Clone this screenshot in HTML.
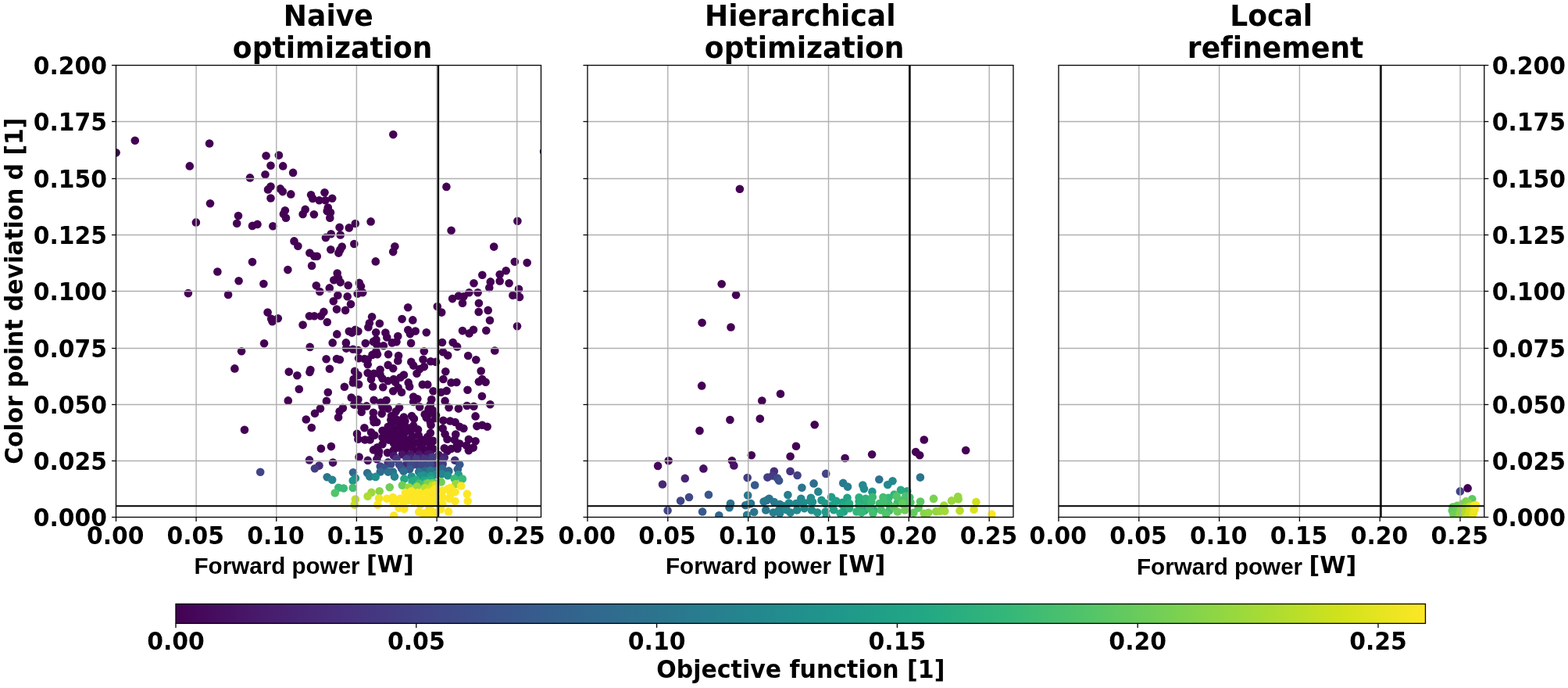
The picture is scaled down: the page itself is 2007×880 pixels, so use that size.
<!DOCTYPE html>
<html><head><meta charset="utf-8"><title>Optimization comparison</title>
<style>html,body{margin:0;padding:0;background:#fff}svg{display:block}text{font-family:"DejaVu Sans", "Liberation Sans", sans-serif;font-weight:bold;fill:#000;font-variant-ligatures:none;font-kerning:none}.ar{font-family:"Liberation Sans", sans-serif}</style></head><body>
<svg width="2007" height="880" viewBox="0 0 2007 880">
<rect width="2007" height="880" fill="#fff"/>
<defs><linearGradient id="vg" x1="0" x2="1" y1="0" y2="0">
<stop offset="0.0000" stop-color="#440154"/>
<stop offset="0.0667" stop-color="#481a6c"/>
<stop offset="0.1333" stop-color="#472f7d"/>
<stop offset="0.2000" stop-color="#414487"/>
<stop offset="0.2667" stop-color="#39568c"/>
<stop offset="0.3333" stop-color="#31688e"/>
<stop offset="0.4000" stop-color="#2a788e"/>
<stop offset="0.4667" stop-color="#23888e"/>
<stop offset="0.5333" stop-color="#1f988b"/>
<stop offset="0.6000" stop-color="#22a884"/>
<stop offset="0.6667" stop-color="#35b779"/>
<stop offset="0.7333" stop-color="#54c568"/>
<stop offset="0.8000" stop-color="#7ad151"/>
<stop offset="0.8667" stop-color="#a5db36"/>
<stop offset="0.9333" stop-color="#d2e21b"/>
<stop offset="1.0000" stop-color="#fde725"/>
</linearGradient></defs>
<g>
<clipPath id="cp0"><rect x="148.5" y="83.5" width="544.0" height="578.0"/></clipPath>
<g clip-path="url(#cp0)">
<g fill="#440154">
<circle cx="148.6" cy="195.3" r="5.3"/>
<circle cx="172.8" cy="179.7" r="5.3"/>
<circle cx="268.1" cy="183.5" r="5.3"/>
<circle cx="242.8" cy="212.4" r="5.3"/>
<circle cx="340.6" cy="199.2" r="5.3"/>
<circle cx="356.9" cy="198.6" r="5.3"/>
<circle cx="346.5" cy="211.7" r="5.3"/>
<circle cx="362.2" cy="212.4" r="5.3"/>
<circle cx="375.1" cy="220.9" r="5.3"/>
<circle cx="339.5" cy="223.2" r="5.3"/>
<circle cx="320.0" cy="227.4" r="5.3"/>
<circle cx="346.5" cy="238.6" r="5.3"/>
<circle cx="343.0" cy="242.4" r="5.3"/>
<circle cx="358.8" cy="241.4" r="5.3"/>
<circle cx="361.8" cy="245.1" r="5.3"/>
<circle cx="372.3" cy="248.4" r="5.3"/>
<circle cx="346.5" cy="253.5" r="5.3"/>
<circle cx="269.0" cy="260.2" r="5.3"/>
<circle cx="398.1" cy="249.3" r="5.3"/>
<circle cx="400.2" cy="253.9" r="5.3"/>
<circle cx="415.5" cy="246.3" r="5.3"/>
<circle cx="408.6" cy="256.3" r="5.3"/>
<circle cx="364.9" cy="269.3" r="5.3"/>
<circle cx="390.7" cy="267.9" r="5.3"/>
<circle cx="250.9" cy="284.4" r="5.3"/>
<circle cx="305.0" cy="276.0" r="5.3"/>
<circle cx="303.2" cy="285.8" r="5.3"/>
<circle cx="323.0" cy="288.9" r="5.3"/>
<circle cx="329.5" cy="286.9" r="5.3"/>
<circle cx="349.3" cy="289.3" r="5.3"/>
<circle cx="362.9" cy="273.7" r="5.3"/>
<circle cx="366.0" cy="278.8" r="5.3"/>
<circle cx="387.6" cy="274.0" r="5.3"/>
<circle cx="401.9" cy="274.2" r="5.3"/>
<circle cx="376.5" cy="308.4" r="5.3"/>
<circle cx="381.4" cy="314.8" r="5.3"/>
<circle cx="396.4" cy="323.5" r="5.3"/>
<circle cx="402.3" cy="327.7" r="5.3"/>
<circle cx="405.8" cy="327.7" r="5.3"/>
<circle cx="416.9" cy="303.9" r="5.3"/>
<circle cx="323.0" cy="335.1" r="5.3"/>
<circle cx="399.1" cy="339.9" r="5.3"/>
<circle cx="368.4" cy="345.1" r="5.3"/>
<circle cx="278.4" cy="347.5" r="5.3"/>
<circle cx="305.6" cy="359.3" r="5.3"/>
<circle cx="337.4" cy="363.0" r="5.3"/>
<circle cx="404.8" cy="365.3" r="5.3"/>
<circle cx="409.3" cy="373.0" r="5.3"/>
<circle cx="240.9" cy="375.1" r="5.3"/>
<circle cx="292.1" cy="376.9" r="5.3"/>
<circle cx="342.6" cy="399.6" r="5.3"/>
<circle cx="347.2" cy="407.7" r="5.3"/>
<circle cx="348.6" cy="411.2" r="5.3"/>
<circle cx="355.8" cy="407.2" r="5.3"/>
<circle cx="396.0" cy="404.2" r="5.3"/>
<circle cx="402.3" cy="404.2" r="5.3"/>
<circle cx="410.7" cy="404.2" r="5.3"/>
<circle cx="414.4" cy="398.9" r="5.3"/>
<circle cx="387.6" cy="415.6" r="5.3"/>
<circle cx="338.1" cy="439.3" r="5.3"/>
<circle cx="396.7" cy="443.9" r="5.3"/>
<circle cx="309.1" cy="449.2" r="5.3"/>
<circle cx="300.4" cy="471.4" r="5.3"/>
<circle cx="369.8" cy="475.6" r="5.3"/>
<circle cx="380.4" cy="480.2" r="5.3"/>
<circle cx="397.4" cy="473.0" r="5.3"/>
<circle cx="396.4" cy="476.0" r="5.3"/>
<circle cx="382.8" cy="497.7" r="5.3"/>
<circle cx="368.8" cy="512.4" r="5.3"/>
<circle cx="410.0" cy="522.6" r="5.3"/>
<circle cx="403.0" cy="528.8" r="5.3"/>
<circle cx="391.8" cy="536.5" r="5.3"/>
<circle cx="398.8" cy="547.0" r="5.3"/>
<circle cx="313.0" cy="549.8" r="5.3"/>
<circle cx="410.9" cy="573.8" r="5.3"/>
<circle cx="423.9" cy="571.1" r="5.3"/>
<circle cx="478.1" cy="575.4" r="5.3"/>
<circle cx="485.1" cy="577.6" r="5.3"/>
<circle cx="483.0" cy="572.2" r="5.3"/>
<circle cx="503.3" cy="172.1" r="5.3"/>
<circle cx="571.4" cy="238.9" r="5.3"/>
<circle cx="696.1" cy="193.8" r="5.3"/>
<circle cx="425.2" cy="253.7" r="5.3"/>
<circle cx="416.5" cy="256.2" r="5.3"/>
<circle cx="419.8" cy="265.6" r="5.3"/>
<circle cx="418.7" cy="270.1" r="5.3"/>
<circle cx="423.0" cy="271.8" r="5.3"/>
<circle cx="422.3" cy="278.8" r="5.3"/>
<circle cx="434.6" cy="290.8" r="5.3"/>
<circle cx="446.8" cy="291.4" r="5.3"/>
<circle cx="454.8" cy="286.0" r="5.3"/>
<circle cx="474.6" cy="283.4" r="5.3"/>
<circle cx="423.7" cy="299.3" r="5.3"/>
<circle cx="435.7" cy="300.5" r="5.3"/>
<circle cx="453.3" cy="312.0" r="5.3"/>
<circle cx="423.3" cy="319.2" r="5.3"/>
<circle cx="437.7" cy="315.6" r="5.3"/>
<circle cx="435.3" cy="319.5" r="5.3"/>
<circle cx="433.4" cy="323.6" r="5.3"/>
<circle cx="505.4" cy="315.3" r="5.3"/>
<circle cx="503.2" cy="322.1" r="5.3"/>
<circle cx="480.8" cy="334.4" r="5.3"/>
<circle cx="577.6" cy="294.7" r="5.3"/>
<circle cx="662.4" cy="282.8" r="5.3"/>
<circle cx="632.2" cy="315.6" r="5.3"/>
<circle cx="658.8" cy="334.7" r="5.3"/>
<circle cx="674.7" cy="336.1" r="5.3"/>
<circle cx="647.7" cy="346.3" r="5.3"/>
<circle cx="639.7" cy="351.0" r="5.3"/>
<circle cx="617.3" cy="351.8" r="5.3"/>
<circle cx="639.7" cy="359.4" r="5.3"/>
<circle cx="627.8" cy="360.4" r="5.3"/>
<circle cx="651.6" cy="362.2" r="5.3"/>
<circle cx="606.5" cy="362.2" r="5.3"/>
<circle cx="626.3" cy="368.1" r="5.3"/>
<circle cx="664.0" cy="369.8" r="5.3"/>
<circle cx="600.4" cy="374.2" r="5.3"/>
<circle cx="611.6" cy="374.2" r="5.3"/>
<circle cx="587.0" cy="378.5" r="5.3"/>
<circle cx="593.5" cy="379.2" r="5.3"/>
<circle cx="579.1" cy="382.1" r="5.3"/>
<circle cx="656.4" cy="377.8" r="5.3"/>
<circle cx="665.0" cy="379.9" r="5.3"/>
<circle cx="431.7" cy="349.6" r="5.3"/>
<circle cx="427.3" cy="358.3" r="5.3"/>
<circle cx="433.1" cy="356.1" r="5.3"/>
<circle cx="435.7" cy="361.1" r="5.3"/>
<circle cx="445.7" cy="365.0" r="5.3"/>
<circle cx="459.9" cy="361.9" r="5.3"/>
<circle cx="462.0" cy="366.2" r="5.3"/>
<circle cx="464.2" cy="374.2" r="5.3"/>
<circle cx="457.7" cy="375.6" r="5.3"/>
<circle cx="421.8" cy="368.4" r="5.3"/>
<circle cx="432.4" cy="377.8" r="5.3"/>
<circle cx="444.7" cy="379.2" r="5.3"/>
<circle cx="426.8" cy="385.2" r="5.3"/>
<circle cx="449.0" cy="389.1" r="5.3"/>
<circle cx="431.0" cy="395.6" r="5.3"/>
<circle cx="442.1" cy="396.9" r="5.3"/>
<circle cx="418.8" cy="412.0" r="5.3"/>
<circle cx="522.2" cy="393.3" r="5.3"/>
<circle cx="476.1" cy="405.2" r="5.3"/>
<circle cx="472.9" cy="413.3" r="5.3"/>
<circle cx="471.4" cy="418.4" r="5.3"/>
<circle cx="485.9" cy="413.7" r="5.3"/>
<circle cx="514.6" cy="408.1" r="5.3"/>
<circle cx="528.3" cy="409.4" r="5.3"/>
<circle cx="431.3" cy="427.4" r="5.3"/>
<circle cx="446.8" cy="423.8" r="5.3"/>
<circle cx="454.8" cy="421.7" r="5.3"/>
<circle cx="458.4" cy="423.8" r="5.3"/>
<circle cx="450.5" cy="425.6" r="5.3"/>
<circle cx="481.2" cy="425.3" r="5.3"/>
<circle cx="493.4" cy="425.6" r="5.3"/>
<circle cx="509.3" cy="430.0" r="5.3"/>
<circle cx="522.3" cy="422.0" r="5.3"/>
<circle cx="531.7" cy="423.5" r="5.3"/>
<circle cx="524.9" cy="427.1" r="5.3"/>
<circle cx="545.8" cy="425.3" r="5.3"/>
<circle cx="592.0" cy="387.7" r="5.3"/>
<circle cx="612.9" cy="387.7" r="5.3"/>
<circle cx="559.8" cy="392.0" r="5.3"/>
<circle cx="565.2" cy="399.6" r="5.3"/>
<circle cx="612.7" cy="398.9" r="5.3"/>
<circle cx="624.7" cy="396.9" r="5.3"/>
<circle cx="627.0" cy="409.7" r="5.3"/>
<circle cx="662.0" cy="417.3" r="5.3"/>
<circle cx="592.0" cy="423.1" r="5.3"/>
<circle cx="606.0" cy="421.7" r="5.3"/>
<circle cx="600.6" cy="426.4" r="5.3"/>
<circle cx="622.3" cy="422.7" r="5.3"/>
<circle cx="495.3" cy="431.5" r="5.3"/>
<circle cx="425.7" cy="438.4" r="5.3"/>
<circle cx="442.9" cy="438.4" r="5.3"/>
<circle cx="443.2" cy="445.6" r="5.3"/>
<circle cx="451.9" cy="446.7" r="5.3"/>
<circle cx="458.4" cy="448.1" r="5.3"/>
<circle cx="467.8" cy="439.1" r="5.3"/>
<circle cx="477.9" cy="436.9" r="5.3"/>
<circle cx="481.5" cy="434.4" r="5.3"/>
<circle cx="482.2" cy="440.5" r="5.3"/>
<circle cx="490.9" cy="442.3" r="5.3"/>
<circle cx="501.8" cy="438.4" r="5.3"/>
<circle cx="507.5" cy="437.3" r="5.3"/>
<circle cx="526.1" cy="438.9" r="5.3"/>
<circle cx="481.5" cy="449.6" r="5.3"/>
<circle cx="476.5" cy="453.9" r="5.3"/>
<circle cx="483.0" cy="453.2" r="5.3"/>
<circle cx="459.1" cy="458.2" r="5.3"/>
<circle cx="466.4" cy="459.0" r="5.3"/>
<circle cx="470.7" cy="459.7" r="5.3"/>
<circle cx="470.7" cy="466.2" r="5.3"/>
<circle cx="497.1" cy="453.2" r="5.3"/>
<circle cx="510.1" cy="455.0" r="5.3"/>
<circle cx="509.3" cy="461.5" r="5.3"/>
<circle cx="542.8" cy="449.2" r="5.3"/>
<circle cx="541.5" cy="459.7" r="5.3"/>
<circle cx="551.2" cy="462.2" r="5.3"/>
<circle cx="526.3" cy="462.9" r="5.3"/>
<circle cx="529.2" cy="467.6" r="5.3"/>
<circle cx="542.9" cy="469.1" r="5.3"/>
<circle cx="537.2" cy="472.0" r="5.3"/>
<circle cx="533.5" cy="477.7" r="5.3"/>
<circle cx="417.6" cy="459.3" r="5.3"/>
<circle cx="431.0" cy="459.0" r="5.3"/>
<circle cx="434.9" cy="460.0" r="5.3"/>
<circle cx="421.9" cy="471.8" r="5.3"/>
<circle cx="496.7" cy="466.9" r="5.3"/>
<circle cx="503.2" cy="471.2" r="5.3"/>
<circle cx="486.6" cy="472.7" r="5.3"/>
<circle cx="454.1" cy="474.9" r="5.3"/>
<circle cx="458.4" cy="479.9" r="5.3"/>
<circle cx="470.7" cy="477.0" r="5.3"/>
<circle cx="478.6" cy="477.7" r="5.3"/>
<circle cx="486.6" cy="479.2" r="5.3"/>
<circle cx="516.9" cy="479.5" r="5.3"/>
<circle cx="512.6" cy="482.8" r="5.3"/>
<circle cx="452.6" cy="485.0" r="5.3"/>
<circle cx="475.0" cy="485.0" r="5.3"/>
<circle cx="489.5" cy="484.2" r="5.3"/>
<circle cx="503.9" cy="485.0" r="5.3"/>
<circle cx="566.0" cy="438.0" r="5.3"/>
<circle cx="579.7" cy="438.0" r="5.3"/>
<circle cx="585.1" cy="443.4" r="5.3"/>
<circle cx="633.3" cy="448.5" r="5.3"/>
<circle cx="567.0" cy="450.3" r="5.3"/>
<circle cx="573.2" cy="454.6" r="5.3"/>
<circle cx="599.2" cy="455.0" r="5.3"/>
<circle cx="609.3" cy="460.2" r="5.3"/>
<circle cx="558.0" cy="462.9" r="5.3"/>
<circle cx="570.3" cy="475.2" r="5.3"/>
<circle cx="615.7" cy="474.5" r="5.3"/>
<circle cx="567.4" cy="485.0" r="5.3"/>
<circle cx="617.2" cy="485.0" r="5.3"/>
<circle cx="419.8" cy="501.7" r="5.3"/>
<circle cx="417.9" cy="512.9" r="5.3"/>
<circle cx="440.9" cy="494.8" r="5.3"/>
<circle cx="451.9" cy="489.4" r="5.3"/>
<circle cx="459.1" cy="491.6" r="5.3"/>
<circle cx="449.7" cy="508.5" r="5.3"/>
<circle cx="458.4" cy="511.1" r="5.3"/>
<circle cx="453.3" cy="517.6" r="5.3"/>
<circle cx="438.9" cy="521.9" r="5.3"/>
<circle cx="434.6" cy="526.2" r="5.3"/>
<circle cx="433.1" cy="533.8" r="5.3"/>
<circle cx="477.2" cy="494.4" r="5.3"/>
<circle cx="496.7" cy="487.2" r="5.3"/>
<circle cx="506.1" cy="488.7" r="5.3"/>
<circle cx="490.2" cy="495.2" r="5.3"/>
<circle cx="503.2" cy="500.2" r="5.3"/>
<circle cx="514.0" cy="501.7" r="5.3"/>
<circle cx="509.7" cy="495.9" r="5.3"/>
<circle cx="522.7" cy="489.4" r="5.3"/>
<circle cx="524.2" cy="494.4" r="5.3"/>
<circle cx="540.8" cy="491.9" r="5.3"/>
<circle cx="547.3" cy="491.9" r="5.3"/>
<circle cx="554.5" cy="500.2" r="5.3"/>
<circle cx="478.6" cy="511.8" r="5.3"/>
<circle cx="487.3" cy="514.7" r="5.3"/>
<circle cx="494.5" cy="512.1" r="5.3"/>
<circle cx="529.2" cy="507.5" r="5.3"/>
<circle cx="534.3" cy="510.3" r="5.3"/>
<circle cx="529.2" cy="514.0" r="5.3"/>
<circle cx="537.2" cy="520.5" r="5.3"/>
<circle cx="552.3" cy="511.1" r="5.3"/>
<circle cx="550.9" cy="517.6" r="5.3"/>
<circle cx="462.0" cy="520.5" r="5.3"/>
<circle cx="469.2" cy="519.4" r="5.3"/>
<circle cx="462.7" cy="527.0" r="5.3"/>
<circle cx="489.5" cy="520.5" r="5.3"/>
<circle cx="496.7" cy="522.6" r="5.3"/>
<circle cx="511.1" cy="521.2" r="5.3"/>
<circle cx="506.8" cy="526.2" r="5.3"/>
<circle cx="477.9" cy="527.7" r="5.3"/>
<circle cx="488.7" cy="529.1" r="5.3"/>
<circle cx="477.9" cy="534.9" r="5.3"/>
<circle cx="501.0" cy="532.0" r="5.3"/>
<circle cx="500.3" cy="537.1" r="5.3"/>
<circle cx="516.9" cy="533.5" r="5.3"/>
<circle cx="527.0" cy="532.0" r="5.3"/>
<circle cx="529.9" cy="535.6" r="5.3"/>
<circle cx="511.1" cy="537.8" r="5.3"/>
<circle cx="543.7" cy="529.9" r="5.3"/>
<circle cx="545.8" cy="534.2" r="5.3"/>
<circle cx="553.8" cy="524.8" r="5.3"/>
<circle cx="482.2" cy="540.0" r="5.3"/>
<circle cx="550.9" cy="540.0" r="5.3"/>
<circle cx="577.5" cy="489.4" r="5.3"/>
<circle cx="584.4" cy="489.0" r="5.3"/>
<circle cx="612.9" cy="488.3" r="5.3"/>
<circle cx="621.6" cy="488.7" r="5.3"/>
<circle cx="564.5" cy="501.7" r="5.3"/>
<circle cx="571.7" cy="499.9" r="5.3"/>
<circle cx="598.5" cy="498.8" r="5.3"/>
<circle cx="616.9" cy="506.7" r="5.3"/>
<circle cx="569.6" cy="512.9" r="5.3"/>
<circle cx="574.6" cy="521.2" r="5.3"/>
<circle cx="586.9" cy="522.6" r="5.3"/>
<circle cx="597.7" cy="519.0" r="5.3"/>
<circle cx="606.4" cy="519.7" r="5.3"/>
<circle cx="627.4" cy="517.2" r="5.3"/>
<circle cx="608.6" cy="532.4" r="5.3"/>
<circle cx="548.6" cy="523.3" r="5.3"/>
<circle cx="547.9" cy="530.6" r="5.3"/>
<circle cx="558.0" cy="531.3" r="5.3"/>
<circle cx="567.4" cy="537.8" r="5.3"/>
<circle cx="576.1" cy="538.5" r="5.3"/>
<circle cx="582.6" cy="540.0" r="5.3"/>
<circle cx="457.0" cy="554.9" r="5.3"/>
<circle cx="458.4" cy="561.7" r="5.3"/>
<circle cx="466.4" cy="547.3" r="5.3"/>
<circle cx="467.1" cy="562.5" r="5.3"/>
<circle cx="475.0" cy="553.1" r="5.3"/>
<circle cx="473.6" cy="562.5" r="5.3"/>
<circle cx="478.6" cy="540.1" r="5.3"/>
<circle cx="479.4" cy="556.7" r="5.3"/>
<circle cx="489.5" cy="550.9" r="5.3"/>
<circle cx="489.5" cy="559.6" r="5.3"/>
<circle cx="489.5" cy="568.2" r="5.3"/>
<circle cx="496.7" cy="545.8" r="5.3"/>
<circle cx="496.7" cy="553.8" r="5.3"/>
<circle cx="503.9" cy="539.3" r="5.3"/>
<circle cx="503.9" cy="549.4" r="5.3"/>
<circle cx="503.9" cy="558.8" r="5.3"/>
<circle cx="503.9" cy="566.8" r="5.3"/>
<circle cx="511.1" cy="545.8" r="5.3"/>
<circle cx="511.1" cy="555.2" r="5.3"/>
<circle cx="511.1" cy="563.9" r="5.3"/>
<circle cx="511.1" cy="572.6" r="5.3"/>
<circle cx="518.4" cy="538.6" r="5.3"/>
<circle cx="522.0" cy="547.3" r="5.3"/>
<circle cx="518.4" cy="553.1" r="5.3"/>
<circle cx="522.7" cy="562.5" r="5.3"/>
<circle cx="518.4" cy="569.0" r="5.3"/>
<circle cx="529.2" cy="544.4" r="5.3"/>
<circle cx="535.0" cy="549.4" r="5.3"/>
<circle cx="535.7" cy="556.7" r="5.3"/>
<circle cx="540.0" cy="562.5" r="5.3"/>
<circle cx="540.0" cy="569.7" r="5.3"/>
<circle cx="547.3" cy="558.8" r="5.3"/>
<circle cx="550.9" cy="553.8" r="5.3"/>
<circle cx="551.6" cy="543.7" r="5.3"/>
<circle cx="554.5" cy="563.9" r="5.3"/>
<circle cx="550.9" cy="569.7" r="5.3"/>
<circle cx="484.4" cy="582.0" r="5.3"/>
<circle cx="496.0" cy="579.1" r="5.3"/>
<circle cx="503.9" cy="575.5" r="5.3"/>
<circle cx="518.4" cy="576.9" r="5.3"/>
<circle cx="529.2" cy="575.5" r="5.3"/>
<circle cx="540.0" cy="576.2" r="5.3"/>
<circle cx="550.9" cy="576.9" r="5.3"/>
<circle cx="610.4" cy="545.1" r="5.3"/>
<circle cx="617.2" cy="543.7" r="5.3"/>
<circle cx="623.7" cy="545.8" r="5.3"/>
<circle cx="557.3" cy="535.0" r="5.3"/>
<circle cx="588.3" cy="545.8" r="5.3"/>
<circle cx="593.4" cy="548.0" r="5.3"/>
<circle cx="566.7" cy="548.0" r="5.3"/>
<circle cx="569.6" cy="555.2" r="5.3"/>
<circle cx="572.5" cy="561.7" r="5.3"/>
<circle cx="583.3" cy="555.6" r="5.3"/>
<circle cx="581.8" cy="562.5" r="5.3"/>
<circle cx="599.9" cy="562.1" r="5.3"/>
<circle cx="608.6" cy="564.3" r="5.3"/>
<circle cx="588.3" cy="567.5" r="5.3"/>
<circle cx="597.0" cy="569.7" r="5.3"/>
<circle cx="605.7" cy="572.6" r="5.3"/>
<circle cx="599.9" cy="576.2" r="5.3"/>
<circle cx="568.8" cy="573.3" r="5.3"/>
<circle cx="577.5" cy="574.0" r="5.3"/>
<circle cx="585.5" cy="574.0" r="5.3"/>
<circle cx="572.5" cy="576.9" r="5.3"/>
<circle cx="554.4" cy="574.0" r="5.3"/>
<circle cx="547.2" cy="575.5" r="5.3"/>
<circle cx="497.5" cy="562.6" r="5.3"/>
<circle cx="516.9" cy="560.5" r="5.3"/>
<circle cx="525.6" cy="551.8" r="5.3"/>
<circle cx="527.7" cy="558.3" r="5.3"/>
<circle cx="524.5" cy="566.9" r="5.3"/>
<circle cx="516.9" cy="545.3" r="5.3"/>
<circle cx="500.7" cy="543.2" r="5.3"/>
<circle cx="545.0" cy="564.8" r="5.3"/>
<circle cx="510.5" cy="569.1" r="5.3"/>
<circle cx="536.4" cy="575.6" r="5.3"/>
<circle cx="493.2" cy="554.0" r="5.3"/>
<circle cx="510.5" cy="551.8" r="5.3"/>
<circle cx="506.1" cy="535.6" r="5.3"/>
<circle cx="585.0" cy="569.1" r="5.3"/>
<circle cx="532.6" cy="566.2" r="5.3"/>
<circle cx="526.8" cy="572.0" r="5.3"/>
</g>
<g fill="#450558">
<circle cx="459.6" cy="584.6" r="5.3"/>
</g>
<g fill="#460c5f">
<circle cx="470.8" cy="588.9" r="5.3"/>
<circle cx="482.4" cy="587.3" r="5.3"/>
</g>
<g fill="#461062">
<circle cx="426.1" cy="591.6" r="5.3"/>
</g>
<g fill="#471466">
<circle cx="396.0" cy="588.4" r="5.3"/>
<circle cx="514.8" cy="581.2" r="5.3"/>
<circle cx="536.4" cy="581.2" r="5.3"/>
<circle cx="547.3" cy="581.2" r="5.3"/>
<circle cx="550.8" cy="581.2" r="5.3"/>
</g>
<g fill="#471668">
<circle cx="525.6" cy="581.2" r="5.3"/>
<circle cx="561.6" cy="582.0" r="5.3"/>
</g>
<g fill="#48176a">
<circle cx="503.9" cy="582.7" r="5.3"/>
</g>
<g fill="#482172">
<circle cx="568.8" cy="584.9" r="5.3"/>
</g>
<g fill="#482474">
<circle cx="520.0" cy="594.3" r="5.3"/>
<circle cx="556.1" cy="593.4" r="5.3"/>
<circle cx="525.6" cy="586.4" r="5.3"/>
<circle cx="538.5" cy="586.4" r="5.3"/>
<circle cx="550.4" cy="585.3" r="5.3"/>
</g>
<g fill="#472877">
<circle cx="582.2" cy="588.8" r="5.3"/>
</g>
<g fill="#472b7a">
<circle cx="408.5" cy="595.6" r="5.3"/>
<circle cx="566.7" cy="588.5" r="5.3"/>
</g>
<g fill="#472e7c">
<circle cx="496.7" cy="591.4" r="5.3"/>
</g>
<g fill="#463480">
<circle cx="507.5" cy="587.0" r="5.3"/>
<circle cx="543.7" cy="587.0" r="5.3"/>
</g>
<g fill="#443b82">
<circle cx="520.5" cy="587.0" r="5.3"/>
<circle cx="532.8" cy="587.0" r="5.3"/>
<circle cx="553.8" cy="584.9" r="5.3"/>
<circle cx="566.7" cy="593.5" r="5.3"/>
</g>
<g fill="#433e84">
<circle cx="402.9" cy="599.2" r="5.3"/>
</g>
<g fill="#414487">
<circle cx="333.2" cy="603.8" r="5.3"/>
<circle cx="536.2" cy="596.0" r="5.3"/>
<circle cx="528.6" cy="594.5" r="5.3"/>
</g>
<g fill="#404788">
<circle cx="500.3" cy="593.5" r="5.3"/>
</g>
<g fill="#3f4988">
<circle cx="486.8" cy="596.5" r="5.3"/>
<circle cx="511.1" cy="594.2" r="5.3"/>
<circle cx="525.6" cy="594.2" r="5.3"/>
<circle cx="540.0" cy="594.2" r="5.3"/>
<circle cx="546.4" cy="596.0" r="5.3"/>
</g>
<g fill="#3d4c89">
<circle cx="550.9" cy="594.2" r="5.3"/>
</g>
<g fill="#3b528b">
<circle cx="491.8" cy="598.5" r="5.3"/>
<circle cx="514.1" cy="599.3" r="5.3"/>
</g>
<g fill="#39578c">
<circle cx="588.3" cy="594.2" r="5.3"/>
</g>
<g fill="#375a8c">
<circle cx="524.2" cy="600.2" r="5.3"/>
</g>
<g fill="#355f8d">
<circle cx="585.9" cy="600.2" r="5.3"/>
</g>
<g fill="#33648e">
<circle cx="452.0" cy="604.3" r="5.3"/>
</g>
<g fill="#31678e">
<circle cx="566.3" cy="599.4" r="5.3"/>
<circle cx="574.4" cy="602.4" r="5.3"/>
<circle cx="544.1" cy="602.2" r="5.3"/>
</g>
<g fill="#306a8e">
<circle cx="486.8" cy="603.5" r="5.3"/>
</g>
<g fill="#2f6c8e">
<circle cx="516.6" cy="602.8" r="5.3"/>
<circle cx="556.6" cy="602.2" r="5.3"/>
</g>
<g fill="#2e6e8e">
<circle cx="470.2" cy="605.1" r="5.3"/>
</g>
<g fill="#2c738e">
<circle cx="418.7" cy="610.2" r="5.3"/>
<circle cx="496.9" cy="603.6" r="5.3"/>
<circle cx="502.9" cy="603.6" r="5.3"/>
</g>
<g fill="#2a788e">
<circle cx="536.2" cy="603.6" r="5.3"/>
<circle cx="550.7" cy="601.9" r="5.3"/>
</g>
<g fill="#287d8e">
<circle cx="473.3" cy="609.4" r="5.3"/>
</g>
<g fill="#25848e">
<circle cx="425.2" cy="613.7" r="5.3"/>
<circle cx="505.0" cy="609.6" r="5.3"/>
<circle cx="565.5" cy="606.2" r="5.3"/>
</g>
<g fill="#228b8d">
<circle cx="454.9" cy="611.6" r="5.3"/>
<circle cx="557.8" cy="607.0" r="5.3"/>
</g>
<g fill="#21908c">
<circle cx="480.8" cy="609.9" r="5.3"/>
<circle cx="542.1" cy="607.9" r="5.3"/>
<circle cx="573.1" cy="608.3" r="5.3"/>
</g>
<g fill="#20958c">
<circle cx="451.7" cy="614.8" r="5.3"/>
<circle cx="526.8" cy="609.6" r="5.3"/>
<circle cx="538.3" cy="609.0" r="5.3"/>
</g>
<g fill="#209c89">
<circle cx="551.5" cy="608.8" r="5.3"/>
<circle cx="586.8" cy="607.0" r="5.3"/>
</g>
<g fill="#22a884">
<circle cx="517.4" cy="612.6" r="5.3"/>
<circle cx="543.0" cy="614.7" r="5.3"/>
</g>
<g fill="#28ac81">
<circle cx="527.6" cy="615.6" r="5.3"/>
<circle cx="532.5" cy="613.8" r="5.3"/>
<circle cx="551.8" cy="613.8" r="5.3"/>
</g>
<g fill="#33b67a">
<circle cx="433.3" cy="623.7" r="5.3"/>
</g>
<g fill="#3bba76">
<circle cx="439.8" cy="624.5" r="5.3"/>
<circle cx="581.7" cy="612.2" r="5.3"/>
<circle cx="591.9" cy="612.6" r="5.3"/>
</g>
<g fill="#44be70">
<circle cx="451.7" cy="624.0" r="5.3"/>
<circle cx="536.4" cy="618.6" r="5.3"/>
</g>
<g fill="#4ec26b">
<circle cx="545.0" cy="618.6" r="5.3"/>
<circle cx="555.7" cy="617.7" r="5.3"/>
</g>
<g fill="#52c469">
<circle cx="428.8" cy="630.5" r="5.3"/>
</g>
<g fill="#6fcd58">
<circle cx="498.7" cy="623.2" r="5.3"/>
<circle cx="514.9" cy="620.7" r="5.3"/>
<circle cx="564.6" cy="616.4" r="5.3"/>
</g>
<g fill="#7ad151">
<circle cx="553.2" cy="618.1" r="5.3"/>
<circle cx="547.6" cy="618.1" r="5.3"/>
</g>
<g fill="#87d449">
<circle cx="485.7" cy="628.3" r="5.3"/>
</g>
<g fill="#9ad83d">
<circle cx="475.4" cy="629.9" r="5.3"/>
<circle cx="523.4" cy="623.2" r="5.3"/>
<circle cx="533.6" cy="622.4" r="5.3"/>
<circle cx="583.4" cy="619.0" r="5.3"/>
</g>
<g fill="#aedc31">
<circle cx="470.6" cy="634.8" r="5.3"/>
</g>
<g fill="#bcde28">
<circle cx="454.9" cy="638.6" r="5.3"/>
<circle cx="543.8" cy="624.1" r="5.3"/>
<circle cx="553.5" cy="620.7" r="5.3"/>
</g>
<g fill="#c9e120">
<circle cx="453.8" cy="645.6" r="5.3"/>
<circle cx="550.1" cy="625.8" r="5.3"/>
</g>
<g fill="#dde31e">
<circle cx="557.6" cy="620.6" r="5.3"/>
</g>
<g fill="#f0e622">
<circle cx="485.1" cy="637.5" r="5.3"/>
</g>
<g fill="#fde725">
<circle cx="483.5" cy="645.6" r="5.3"/>
<circle cx="495.2" cy="637.7" r="5.3"/>
<circle cx="502.9" cy="636.0" r="5.3"/>
<circle cx="512.3" cy="637.7" r="5.3"/>
<circle cx="520.8" cy="634.3" r="5.3"/>
<circle cx="529.3" cy="632.6" r="5.3"/>
<circle cx="537.9" cy="630.9" r="5.3"/>
<circle cx="546.4" cy="630.1" r="5.3"/>
<circle cx="554.1" cy="627.5" r="5.3"/>
<circle cx="503.8" cy="642.9" r="5.3"/>
<circle cx="516.6" cy="642.9" r="5.3"/>
<circle cx="529.3" cy="641.1" r="5.3"/>
<circle cx="542.1" cy="639.4" r="5.3"/>
<circle cx="553.2" cy="637.7" r="5.3"/>
<circle cx="510.6" cy="649.7" r="5.3"/>
<circle cx="517.4" cy="650.9" r="5.3"/>
<circle cx="537.9" cy="645.4" r="5.3"/>
<circle cx="550.7" cy="645.4" r="5.3"/>
<circle cx="536.2" cy="654.8" r="5.3"/>
<circle cx="541.3" cy="656.5" r="5.3"/>
<circle cx="554.1" cy="654.8" r="5.3"/>
<circle cx="504.2" cy="659.5" r="5.3"/>
<circle cx="554.1" cy="660.8" r="5.3"/>
<circle cx="576.5" cy="624.1" r="5.3"/>
<circle cx="590.2" cy="621.5" r="5.3"/>
<circle cx="566.3" cy="627.5" r="5.3"/>
<circle cx="582.5" cy="629.2" r="5.3"/>
<circle cx="553.5" cy="632.6" r="5.3"/>
<circle cx="566.3" cy="636.0" r="5.3"/>
<circle cx="574.8" cy="637.7" r="5.3"/>
<circle cx="582.5" cy="641.1" r="5.3"/>
<circle cx="566.3" cy="644.6" r="5.3"/>
<circle cx="597.9" cy="631.8" r="5.3"/>
<circle cx="598.7" cy="641.1" r="5.3"/>
<circle cx="549.3" cy="651.4" r="5.3"/>
<circle cx="557.8" cy="656.5" r="5.3"/>
<circle cx="563.8" cy="651.4" r="5.3"/>
<circle cx="574.0" cy="654.4" r="5.3"/>
<circle cx="545.0" cy="656.5" r="5.3"/>
<circle cx="519.0" cy="630.2" r="5.3"/>
<circle cx="526.7" cy="628.3" r="5.3"/>
<circle cx="534.4" cy="630.2" r="5.3"/>
<circle cx="557.6" cy="625.4" r="5.3"/>
<circle cx="507.4" cy="639.9" r="5.3"/>
<circle cx="521.9" cy="639.9" r="5.3"/>
<circle cx="536.4" cy="637.9" r="5.3"/>
<circle cx="547.9" cy="637.9" r="5.3"/>
<circle cx="557.6" cy="636.0" r="5.3"/>
<circle cx="544.1" cy="642.8" r="5.3"/>
<circle cx="555.7" cy="642.8" r="5.3"/>
<circle cx="573.1" cy="625.4" r="5.3"/>
<circle cx="576.9" cy="632.2" r="5.3"/>
</g>
</g>
<line x1="251.1" x2="251.1" y1="83.5" y2="661.5" stroke="#b0b0b0" stroke-width="1.4"/>
<line x1="353.8" x2="353.8" y1="83.5" y2="661.5" stroke="#b0b0b0" stroke-width="1.4"/>
<line x1="456.4" x2="456.4" y1="83.5" y2="661.5" stroke="#b0b0b0" stroke-width="1.4"/>
<line x1="559.1" x2="559.1" y1="83.5" y2="661.5" stroke="#b0b0b0" stroke-width="1.4"/>
<line x1="661.7" x2="661.7" y1="83.5" y2="661.5" stroke="#b0b0b0" stroke-width="1.4"/>
<line x1="148.5" x2="692.5" y1="589.5" y2="589.5" stroke="#b0b0b0" stroke-width="1.4"/>
<line x1="148.5" x2="692.5" y1="517.5" y2="517.5" stroke="#b0b0b0" stroke-width="1.4"/>
<line x1="148.5" x2="692.5" y1="445.5" y2="445.5" stroke="#b0b0b0" stroke-width="1.4"/>
<line x1="148.5" x2="692.5" y1="372.5" y2="372.5" stroke="#b0b0b0" stroke-width="1.4"/>
<line x1="148.5" x2="692.5" y1="300.5" y2="300.5" stroke="#b0b0b0" stroke-width="1.4"/>
<line x1="148.5" x2="692.5" y1="228.5" y2="228.5" stroke="#b0b0b0" stroke-width="1.4"/>
<line x1="148.5" x2="692.5" y1="155.5" y2="155.5" stroke="#b0b0b0" stroke-width="1.4"/>
<line x1="561.0" x2="561.0" y1="83.5" y2="661.5" stroke="#000" stroke-width="2.3"/>
<line x1="148.5" x2="692.5" y1="647.2" y2="647.2" stroke="#000" stroke-width="2.1"/>
<rect x="148.5" y="83.5" width="544.0" height="578.0" fill="none" stroke="#000" stroke-width="1.3"/>
<line x1="148.5" x2="148.5" y1="661.5" y2="667.0" stroke="#000" stroke-width="1.3"/>
<text transform="translate(147.7,696.3) scale(1,1.060)" font-size="29.8" text-anchor="middle">0.00</text>
<line x1="251.1" x2="251.1" y1="661.5" y2="667.0" stroke="#000" stroke-width="1.3"/>
<text transform="translate(250.3,696.3) scale(1,1.060)" font-size="29.8" text-anchor="middle">0.05</text>
<line x1="353.8" x2="353.8" y1="661.5" y2="667.0" stroke="#000" stroke-width="1.3"/>
<text transform="translate(353.0,696.3) scale(1,1.060)" font-size="29.8" text-anchor="middle">0.10</text>
<line x1="456.4" x2="456.4" y1="661.5" y2="667.0" stroke="#000" stroke-width="1.3"/>
<text transform="translate(455.6,696.3) scale(1,1.060)" font-size="29.8" text-anchor="middle">0.15</text>
<line x1="559.1" x2="559.1" y1="661.5" y2="667.0" stroke="#000" stroke-width="1.3"/>
<text transform="translate(558.3,696.3) scale(1,1.060)" font-size="29.8" text-anchor="middle">0.20</text>
<line x1="661.7" x2="661.7" y1="661.5" y2="667.0" stroke="#000" stroke-width="1.3"/>
<text transform="translate(660.9,696.3) scale(1,1.060)" font-size="29.8" text-anchor="middle">0.25</text>
<line x1="143.0" x2="148.5" y1="661.5" y2="661.5" stroke="#000" stroke-width="1.3"/>
<text transform="translate(137.0,673.2) scale(1,1.060)" font-size="29.8" text-anchor="end">0.000</text>
<line x1="143.0" x2="148.5" y1="589.5" y2="589.5" stroke="#000" stroke-width="1.3"/>
<text transform="translate(137.0,601.2) scale(1,1.060)" font-size="29.8" text-anchor="end">0.025</text>
<line x1="143.0" x2="148.5" y1="517.5" y2="517.5" stroke="#000" stroke-width="1.3"/>
<text transform="translate(137.0,529.2) scale(1,1.060)" font-size="29.8" text-anchor="end">0.050</text>
<line x1="143.0" x2="148.5" y1="445.5" y2="445.5" stroke="#000" stroke-width="1.3"/>
<text transform="translate(137.0,457.2) scale(1,1.060)" font-size="29.8" text-anchor="end">0.075</text>
<line x1="143.0" x2="148.5" y1="372.5" y2="372.5" stroke="#000" stroke-width="1.3"/>
<text transform="translate(137.0,384.2) scale(1,1.060)" font-size="29.8" text-anchor="end">0.100</text>
<line x1="143.0" x2="148.5" y1="300.5" y2="300.5" stroke="#000" stroke-width="1.3"/>
<text transform="translate(137.0,312.2) scale(1,1.060)" font-size="29.8" text-anchor="end">0.125</text>
<line x1="143.0" x2="148.5" y1="228.5" y2="228.5" stroke="#000" stroke-width="1.3"/>
<text transform="translate(137.0,240.2) scale(1,1.060)" font-size="29.8" text-anchor="end">0.150</text>
<line x1="143.0" x2="148.5" y1="155.5" y2="155.5" stroke="#000" stroke-width="1.3"/>
<text transform="translate(137.0,167.2) scale(1,1.060)" font-size="29.8" text-anchor="end">0.175</text>
<line x1="143.0" x2="148.5" y1="83.5" y2="83.5" stroke="#000" stroke-width="1.3"/>
<text transform="translate(137.0,95.2) scale(1,1.060)" font-size="29.8" text-anchor="end">0.200</text>
<text transform="translate(420.3,33.3) scale(1,1.015)" font-size="36.1" text-anchor="middle">Naive</text>
<text transform="translate(425.7,74.1) scale(1,1.015)" font-size="36.1" text-anchor="middle">optimization</text>
<text transform="translate(248.5,734.2) scale(1,1.000)" font-size="29.6" text-anchor="start" class="ar">Forward power</text>
<text transform="translate(469.0,731.8) scale(1,1.000)" font-size="30.2" text-anchor="start">[W]</text>
</g>
<g>
<clipPath id="cp1"><rect x="752.0" y="83.5" width="545.0" height="578.0"/></clipPath>
<g clip-path="url(#cp1)">
<g fill="#440154">
<circle cx="946.9" cy="241.7" r="5.3"/>
<circle cx="923.7" cy="363.2" r="5.3"/>
<circle cx="942.1" cy="377.2" r="5.3"/>
<circle cx="898.6" cy="412.8" r="5.3"/>
<circle cx="935.5" cy="418.5" r="5.3"/>
<circle cx="898.2" cy="493.4" r="5.3"/>
<circle cx="999.0" cy="503.8" r="5.3"/>
<circle cx="975.3" cy="512.6" r="5.3"/>
<circle cx="934.4" cy="537.0" r="5.3"/>
<circle cx="972.8" cy="535.6" r="5.3"/>
<circle cx="895.5" cy="550.9" r="5.3"/>
<circle cx="1019.0" cy="570.7" r="5.3"/>
<circle cx="961.8" cy="582.3" r="5.3"/>
<circle cx="1011.6" cy="583.7" r="5.3"/>
<circle cx="855.7" cy="589.3" r="5.3"/>
<circle cx="936.9" cy="589.3" r="5.3"/>
<circle cx="1042.7" cy="543.2" r="5.3"/>
<circle cx="1182.8" cy="562.5" r="5.3"/>
<circle cx="1172.1" cy="578.1" r="5.3"/>
<circle cx="1177.2" cy="582.3" r="5.3"/>
<circle cx="1236.2" cy="576.0" r="5.3"/>
</g>
<g fill="#450558">
<circle cx="1116.1" cy="581.3" r="5.3"/>
</g>
<g fill="#45085b">
<circle cx="842.1" cy="595.9" r="5.3"/>
<circle cx="1081.6" cy="586.0" r="5.3"/>
</g>
<g fill="#461062">
<circle cx="900.4" cy="599.4" r="5.3"/>
</g>
<g fill="#471466">
<circle cx="939.4" cy="595.4" r="5.3"/>
</g>
<g fill="#482474">
<circle cx="876.8" cy="611.9" r="5.3"/>
</g>
<g fill="#472877">
<circle cx="848.0" cy="619.5" r="5.3"/>
</g>
<g fill="#472e7c">
<circle cx="990.8" cy="602.7" r="5.3"/>
</g>
<g fill="#46317e">
<circle cx="1011.5" cy="602.7" r="5.3"/>
</g>
<g fill="#443b82">
<circle cx="988.7" cy="608.5" r="5.3"/>
</g>
<g fill="#433e84">
<circle cx="956.7" cy="611.1" r="5.3"/>
<circle cx="982.4" cy="610.6" r="5.3"/>
</g>
<g fill="#424186">
<circle cx="1020.6" cy="608.0" r="5.3"/>
</g>
<g fill="#414487">
<circle cx="871.1" cy="640.6" r="5.3"/>
<circle cx="854.6" cy="653.0" r="5.3"/>
<circle cx="1057.2" cy="605.9" r="5.3"/>
</g>
<g fill="#3f4988">
<circle cx="882.0" cy="636.0" r="5.3"/>
<circle cx="995.0" cy="611.6" r="5.3"/>
</g>
<g fill="#3b528b">
<circle cx="997.1" cy="614.8" r="5.3"/>
</g>
<g fill="#39578c">
<circle cx="907.0" cy="632.8" r="5.3"/>
</g>
<g fill="#375a8c">
<circle cx="899.1" cy="654.5" r="5.3"/>
<circle cx="966.2" cy="620.5" r="5.3"/>
</g>
<g fill="#31678e">
<circle cx="920.3" cy="659.2" r="5.3"/>
</g>
<g fill="#2f6c8e">
<circle cx="1041.6" cy="618.4" r="5.3"/>
<circle cx="954.2" cy="646.2" r="5.3"/>
</g>
<g fill="#2d718e">
<circle cx="1125.3" cy="613.2" r="5.3"/>
<circle cx="961.0" cy="644.1" r="5.3"/>
</g>
<g fill="#2c738e">
<circle cx="935.0" cy="644.1" r="5.3"/>
<circle cx="933.6" cy="649.3" r="5.3"/>
<circle cx="1026.4" cy="623.7" r="5.3"/>
<circle cx="981.4" cy="639.9" r="5.3"/>
<circle cx="984.5" cy="637.8" r="5.3"/>
<circle cx="965.2" cy="655.0" r="5.3"/>
<circle cx="1177.9" cy="610.6" r="5.3"/>
</g>
<g fill="#2a788e">
<circle cx="977.6" cy="641.6" r="5.3"/>
<circle cx="957.2" cy="633.6" r="5.3"/>
<circle cx="1079.2" cy="617.9" r="5.3"/>
<circle cx="990.8" cy="642.0" r="5.3"/>
<circle cx="980.3" cy="652.4" r="5.3"/>
</g>
<g fill="#287d8e">
<circle cx="957.7" cy="645.1" r="5.3"/>
<circle cx="956.1" cy="658.7" r="5.3"/>
<circle cx="1085.0" cy="622.6" r="5.3"/>
<circle cx="1008.4" cy="633.1" r="5.3"/>
<circle cx="998.1" cy="645.1" r="5.3"/>
<circle cx="989.8" cy="655.6" r="5.3"/>
<circle cx="998.1" cy="656.6" r="5.3"/>
</g>
<g fill="#277f8e">
<circle cx="1003.4" cy="647.2" r="5.3"/>
</g>
<g fill="#25838e">
<circle cx="997.0" cy="652.6" r="5.3"/>
</g>
<g fill="#25848e">
<circle cx="1047.3" cy="628.9" r="5.3"/>
</g>
<g fill="#24868e">
<circle cx="1011.7" cy="655.6" r="5.3"/>
</g>
<g fill="#23888e">
<circle cx="1009.9" cy="643.5" r="5.3"/>
</g>
<g fill="#23898e">
<circle cx="1006.5" cy="652.1" r="5.3"/>
<circle cx="1104.3" cy="620.5" r="5.3"/>
<circle cx="1142.5" cy="615.3" r="5.3"/>
<circle cx="1136.2" cy="620.0" r="5.3"/>
<circle cx="1020.1" cy="652.4" r="5.3"/>
<circle cx="1019.1" cy="644.1" r="5.3"/>
<circle cx="1025.3" cy="637.8" r="5.3"/>
</g>
<g fill="#228b8d">
<circle cx="1105.9" cy="625.2" r="5.3"/>
<circle cx="1028.5" cy="643.0" r="5.3"/>
<circle cx="1037.9" cy="636.7" r="5.3"/>
<circle cx="1029.5" cy="650.3" r="5.3"/>
</g>
<g fill="#21908d">
<circle cx="1036.9" cy="640.8" r="5.3"/>
</g>
<g fill="#21908c">
<circle cx="1040.0" cy="642.0" r="5.3"/>
<circle cx="1038.9" cy="652.4" r="5.3"/>
</g>
<g fill="#20958c">
<circle cx="1116.4" cy="628.9" r="5.3"/>
<circle cx="1046.3" cy="655.6" r="5.3"/>
</g>
<g fill="#1f978b">
<circle cx="1051.5" cy="639.9" r="5.3"/>
</g>
<g fill="#1f9a8a">
<circle cx="1056.7" cy="644.1" r="5.3"/>
<circle cx="1056.7" cy="654.5" r="5.3"/>
<circle cx="1057.8" cy="660.8" r="5.3"/>
</g>
<g fill="#209c89">
<circle cx="1064.1" cy="635.7" r="5.3"/>
</g>
<g fill="#209e88">
<circle cx="1065.1" cy="646.2" r="5.3"/>
</g>
<g fill="#21a187">
<circle cx="1080.0" cy="654.5" r="5.3"/>
<circle cx="1070.3" cy="640.9" r="5.3"/>
<circle cx="1078.3" cy="642.8" r="5.3"/>
<circle cx="1067.1" cy="652.3" r="5.3"/>
</g>
<g fill="#21a386">
<circle cx="1084.5" cy="636.7" r="5.3"/>
</g>
<g fill="#22a884">
<circle cx="1075.6" cy="656.6" r="5.3"/>
<circle cx="1078.7" cy="646.2" r="5.3"/>
<circle cx="1161.2" cy="628.2" r="5.3"/>
</g>
<g fill="#23a984">
<circle cx="1099.6" cy="641.3" r="5.3"/>
</g>
<g fill="#28ac81">
<circle cx="1153.0" cy="626.8" r="5.3"/>
<circle cx="1087.1" cy="644.1" r="5.3"/>
<circle cx="1106.8" cy="653.0" r="5.3"/>
</g>
<g fill="#2baf7f">
<circle cx="1087.1" cy="650.3" r="5.3"/>
<circle cx="1099.6" cy="636.2" r="5.3"/>
</g>
<g fill="#2db17d">
<circle cx="1108.9" cy="642.5" r="5.3"/>
</g>
<g fill="#2fb27d">
<circle cx="1118.7" cy="652.8" r="5.3"/>
</g>
<g fill="#30b37c">
<circle cx="1144.6" cy="632.5" r="5.3"/>
<circle cx="1108.0" cy="637.8" r="5.3"/>
<circle cx="1099.6" cy="646.2" r="5.3"/>
</g>
<g fill="#33b67a">
<circle cx="1096.5" cy="654.5" r="5.3"/>
</g>
<g fill="#37b878">
<circle cx="1137.3" cy="636.7" r="5.3"/>
<circle cx="1102.8" cy="655.6" r="5.3"/>
</g>
<g fill="#3ab976">
<circle cx="1116.8" cy="635.8" r="5.3"/>
</g>
<g fill="#3bba76">
<circle cx="1115.3" cy="642.0" r="5.3"/>
</g>
<g fill="#3dbb75">
<circle cx="1137.4" cy="644.4" r="5.3"/>
</g>
<g fill="#40bc73">
<circle cx="1113.2" cy="650.3" r="5.3"/>
<circle cx="1138.3" cy="653.0" r="5.3"/>
</g>
<g fill="#41bc73">
<circle cx="1148.8" cy="643.0" r="5.3"/>
</g>
<g fill="#42bd72">
<circle cx="1130.4" cy="636.1" r="5.3"/>
</g>
<g fill="#44be70">
<circle cx="1117.4" cy="656.6" r="5.3"/>
<circle cx="1125.8" cy="644.1" r="5.3"/>
<circle cx="1131.0" cy="642.0" r="5.3"/>
<circle cx="1164.3" cy="636.3" r="5.3"/>
</g>
<g fill="#4ec26b">
<circle cx="1159.3" cy="634.6" r="5.3"/>
<circle cx="1127.9" cy="652.4" r="5.3"/>
<circle cx="1153.1" cy="640.4" r="5.3"/>
</g>
<g fill="#50c36a">
<circle cx="1159.1" cy="643.9" r="5.3"/>
</g>
<g fill="#52c469">
<circle cx="1134.2" cy="657.7" r="5.3"/>
<circle cx="1165.3" cy="642.5" r="5.3"/>
</g>
<g fill="#53c568">
<circle cx="1147.7" cy="634.6" r="5.3"/>
</g>
<g fill="#5ec862">
<circle cx="1143.6" cy="648.2" r="5.3"/>
<circle cx="1178.1" cy="641.5" r="5.3"/>
</g>
<g fill="#63ca5f">
<circle cx="1155.1" cy="644.1" r="5.3"/>
<circle cx="1175.6" cy="649.6" r="5.3"/>
<circle cx="1169.4" cy="655.8" r="5.3"/>
</g>
<g fill="#69cc5b">
<circle cx="1148.8" cy="654.5" r="5.3"/>
</g>
<g fill="#6fcd58">
<circle cx="1158.2" cy="652.4" r="5.3"/>
</g>
<g fill="#7ad151">
<circle cx="1195.0" cy="637.9" r="5.3"/>
</g>
<g fill="#87d449">
<circle cx="1182.7" cy="656.8" r="5.3"/>
</g>
<g fill="#8dd645">
<circle cx="1188.3" cy="655.8" r="5.3"/>
</g>
<g fill="#94d741">
<circle cx="1198.1" cy="654.2" r="5.3"/>
<circle cx="1226.2" cy="635.3" r="5.3"/>
<circle cx="1226.7" cy="638.4" r="5.3"/>
</g>
<g fill="#9ad83d">
<circle cx="1203.2" cy="653.7" r="5.3"/>
<circle cx="1218.0" cy="640.4" r="5.3"/>
</g>
<g fill="#a1da39">
<circle cx="1208.3" cy="646.6" r="5.3"/>
<circle cx="1209.3" cy="653.7" r="5.3"/>
</g>
<g fill="#bcde28">
<circle cx="1228.5" cy="653.2" r="5.3"/>
</g>
<g fill="#d0e21c">
<circle cx="1249.4" cy="642.0" r="5.3"/>
</g>
<g fill="#dde31e">
<circle cx="1246.6" cy="651.7" r="5.3"/>
</g>
<g fill="#fde725">
<circle cx="1269.4" cy="657.8" r="5.3"/>
</g>
</g>
<line x1="854.8" x2="854.8" y1="83.5" y2="661.5" stroke="#b0b0b0" stroke-width="1.4"/>
<line x1="957.7" x2="957.7" y1="83.5" y2="661.5" stroke="#b0b0b0" stroke-width="1.4"/>
<line x1="1060.5" x2="1060.5" y1="83.5" y2="661.5" stroke="#b0b0b0" stroke-width="1.4"/>
<line x1="1163.3" x2="1163.3" y1="83.5" y2="661.5" stroke="#b0b0b0" stroke-width="1.4"/>
<line x1="1266.2" x2="1266.2" y1="83.5" y2="661.5" stroke="#b0b0b0" stroke-width="1.4"/>
<line x1="752.0" x2="1297.0" y1="589.5" y2="589.5" stroke="#b0b0b0" stroke-width="1.4"/>
<line x1="752.0" x2="1297.0" y1="517.5" y2="517.5" stroke="#b0b0b0" stroke-width="1.4"/>
<line x1="752.0" x2="1297.0" y1="445.5" y2="445.5" stroke="#b0b0b0" stroke-width="1.4"/>
<line x1="752.0" x2="1297.0" y1="372.5" y2="372.5" stroke="#b0b0b0" stroke-width="1.4"/>
<line x1="752.0" x2="1297.0" y1="300.5" y2="300.5" stroke="#b0b0b0" stroke-width="1.4"/>
<line x1="752.0" x2="1297.0" y1="228.5" y2="228.5" stroke="#b0b0b0" stroke-width="1.4"/>
<line x1="752.0" x2="1297.0" y1="155.5" y2="155.5" stroke="#b0b0b0" stroke-width="1.4"/>
<line x1="1164.5" x2="1164.5" y1="83.5" y2="661.5" stroke="#000" stroke-width="2.3"/>
<line x1="752.0" x2="1297.0" y1="647.2" y2="647.2" stroke="#000" stroke-width="2.1"/>
<rect x="752.0" y="83.5" width="545.0" height="578.0" fill="none" stroke="#000" stroke-width="1.3"/>
<line x1="752.0" x2="752.0" y1="661.5" y2="667.0" stroke="#000" stroke-width="1.3"/>
<text transform="translate(751.2,696.3) scale(1,1.060)" font-size="29.8" text-anchor="middle">0.00</text>
<line x1="854.8" x2="854.8" y1="661.5" y2="667.0" stroke="#000" stroke-width="1.3"/>
<text transform="translate(854.0,696.3) scale(1,1.060)" font-size="29.8" text-anchor="middle">0.05</text>
<line x1="957.7" x2="957.7" y1="661.5" y2="667.0" stroke="#000" stroke-width="1.3"/>
<text transform="translate(956.9,696.3) scale(1,1.060)" font-size="29.8" text-anchor="middle">0.10</text>
<line x1="1060.5" x2="1060.5" y1="661.5" y2="667.0" stroke="#000" stroke-width="1.3"/>
<text transform="translate(1059.7,696.3) scale(1,1.060)" font-size="29.8" text-anchor="middle">0.15</text>
<line x1="1163.3" x2="1163.3" y1="661.5" y2="667.0" stroke="#000" stroke-width="1.3"/>
<text transform="translate(1162.5,696.3) scale(1,1.060)" font-size="29.8" text-anchor="middle">0.20</text>
<line x1="1266.2" x2="1266.2" y1="661.5" y2="667.0" stroke="#000" stroke-width="1.3"/>
<text transform="translate(1265.4,696.3) scale(1,1.060)" font-size="29.8" text-anchor="middle">0.25</text>
<line x1="746.5" x2="752.0" y1="661.5" y2="661.5" stroke="#000" stroke-width="1.3"/>
<line x1="746.5" x2="752.0" y1="589.5" y2="589.5" stroke="#000" stroke-width="1.3"/>
<line x1="746.5" x2="752.0" y1="517.5" y2="517.5" stroke="#000" stroke-width="1.3"/>
<line x1="746.5" x2="752.0" y1="445.5" y2="445.5" stroke="#000" stroke-width="1.3"/>
<line x1="746.5" x2="752.0" y1="372.5" y2="372.5" stroke="#000" stroke-width="1.3"/>
<line x1="746.5" x2="752.0" y1="300.5" y2="300.5" stroke="#000" stroke-width="1.3"/>
<line x1="746.5" x2="752.0" y1="228.5" y2="228.5" stroke="#000" stroke-width="1.3"/>
<line x1="746.5" x2="752.0" y1="155.5" y2="155.5" stroke="#000" stroke-width="1.3"/>
<line x1="746.5" x2="752.0" y1="83.5" y2="83.5" stroke="#000" stroke-width="1.3"/>
<text transform="translate(1024.3,33.3) scale(1,1.015)" font-size="36.1" text-anchor="middle">Hierarchical</text>
<text transform="translate(1029.7,74.1) scale(1,1.015)" font-size="36.1" text-anchor="middle">optimization</text>
<text transform="translate(852.0,734.2) scale(1,1.000)" font-size="29.6" text-anchor="start" class="ar">Forward power</text>
<text transform="translate(1072.5,731.8) scale(1,1.000)" font-size="30.2" text-anchor="start">[W]</text>
</g>
<g>
<clipPath id="cp2"><rect x="1355.0" y="83.5" width="544.8" height="578.0"/></clipPath>
<g clip-path="url(#cp2)">
<g fill="#440154">
<circle cx="1878.6" cy="624.4" r="5.3"/>
</g>
<g fill="#414487">
<circle cx="1868.9" cy="628.4" r="5.3"/>
</g>
<g fill="#5ec862">
<circle cx="1884.3" cy="638.2" r="5.3"/>
</g>
<g fill="#63ca5f">
<circle cx="1859.6" cy="648.5" r="5.3"/>
<circle cx="1858.8" cy="653.3" r="5.3"/>
</g>
<g fill="#6fcd58">
<circle cx="1865.2" cy="646.9" r="5.3"/>
<circle cx="1860.4" cy="658.1" r="5.3"/>
<circle cx="1863.6" cy="655.7" r="5.3"/>
</g>
<g fill="#7ad151">
<circle cx="1876.3" cy="641.4" r="5.3"/>
<circle cx="1871.6" cy="644.5" r="5.3"/>
</g>
<g fill="#87d449">
<circle cx="1879.5" cy="642.9" r="5.3"/>
</g>
<g fill="#8dd645">
<circle cx="1870.0" cy="651.7" r="5.3"/>
<circle cx="1868.4" cy="657.3" r="5.3"/>
</g>
<g fill="#a7db35">
<circle cx="1874.8" cy="649.3" r="5.3"/>
</g>
<g fill="#aedc31">
<circle cx="1875.5" cy="655.7" r="5.3"/>
</g>
<g fill="#c9e120">
<circle cx="1881.1" cy="647.7" r="5.3"/>
<circle cx="1879.5" cy="658.8" r="5.3"/>
</g>
<g fill="#d0e21c">
<circle cx="1881.1" cy="654.1" r="5.3"/>
</g>
<g fill="#eae520">
<circle cx="1885.9" cy="646.9" r="5.3"/>
<circle cx="1885.9" cy="656.5" r="5.3"/>
</g>
<g fill="#f0e622">
<circle cx="1887.5" cy="651.7" r="5.3"/>
</g>
<g fill="#fde725">
<circle cx="1889.1" cy="646.1" r="5.3"/>
</g>
</g>
<line x1="1457.8" x2="1457.8" y1="83.5" y2="661.5" stroke="#b0b0b0" stroke-width="1.4"/>
<line x1="1560.6" x2="1560.6" y1="83.5" y2="661.5" stroke="#b0b0b0" stroke-width="1.4"/>
<line x1="1663.4" x2="1663.4" y1="83.5" y2="661.5" stroke="#b0b0b0" stroke-width="1.4"/>
<line x1="1766.2" x2="1766.2" y1="83.5" y2="661.5" stroke="#b0b0b0" stroke-width="1.4"/>
<line x1="1869.0" x2="1869.0" y1="83.5" y2="661.5" stroke="#b0b0b0" stroke-width="1.4"/>
<line x1="1355.0" x2="1899.8" y1="589.5" y2="589.5" stroke="#b0b0b0" stroke-width="1.4"/>
<line x1="1355.0" x2="1899.8" y1="517.5" y2="517.5" stroke="#b0b0b0" stroke-width="1.4"/>
<line x1="1355.0" x2="1899.8" y1="445.5" y2="445.5" stroke="#b0b0b0" stroke-width="1.4"/>
<line x1="1355.0" x2="1899.8" y1="372.5" y2="372.5" stroke="#b0b0b0" stroke-width="1.4"/>
<line x1="1355.0" x2="1899.8" y1="300.5" y2="300.5" stroke="#b0b0b0" stroke-width="1.4"/>
<line x1="1355.0" x2="1899.8" y1="228.5" y2="228.5" stroke="#b0b0b0" stroke-width="1.4"/>
<line x1="1355.0" x2="1899.8" y1="155.5" y2="155.5" stroke="#b0b0b0" stroke-width="1.4"/>
<line x1="1767.5" x2="1767.5" y1="83.5" y2="661.5" stroke="#000" stroke-width="2.3"/>
<line x1="1355.0" x2="1899.8" y1="647.2" y2="647.2" stroke="#000" stroke-width="2.1"/>
<rect x="1355.0" y="83.5" width="544.8" height="578.0" fill="none" stroke="#000" stroke-width="1.3"/>
<line x1="1355.0" x2="1355.0" y1="661.5" y2="667.0" stroke="#000" stroke-width="1.3"/>
<text transform="translate(1354.2,696.3) scale(1,1.060)" font-size="29.8" text-anchor="middle">0.00</text>
<line x1="1457.8" x2="1457.8" y1="661.5" y2="667.0" stroke="#000" stroke-width="1.3"/>
<text transform="translate(1457.0,696.3) scale(1,1.060)" font-size="29.8" text-anchor="middle">0.05</text>
<line x1="1560.6" x2="1560.6" y1="661.5" y2="667.0" stroke="#000" stroke-width="1.3"/>
<text transform="translate(1559.8,696.3) scale(1,1.060)" font-size="29.8" text-anchor="middle">0.10</text>
<line x1="1663.4" x2="1663.4" y1="661.5" y2="667.0" stroke="#000" stroke-width="1.3"/>
<text transform="translate(1662.6,696.3) scale(1,1.060)" font-size="29.8" text-anchor="middle">0.15</text>
<line x1="1766.2" x2="1766.2" y1="661.5" y2="667.0" stroke="#000" stroke-width="1.3"/>
<text transform="translate(1765.4,696.3) scale(1,1.060)" font-size="29.8" text-anchor="middle">0.20</text>
<line x1="1869.0" x2="1869.0" y1="661.5" y2="667.0" stroke="#000" stroke-width="1.3"/>
<text transform="translate(1868.2,696.3) scale(1,1.060)" font-size="29.8" text-anchor="middle">0.25</text>
<line x1="1899.8" x2="1905.3" y1="661.5" y2="661.5" stroke="#000" stroke-width="1.3"/>
<text transform="translate(1909.8,673.2) scale(1,1.060)" font-size="29.8" text-anchor="start">0.000</text>
<line x1="1899.8" x2="1905.3" y1="589.5" y2="589.5" stroke="#000" stroke-width="1.3"/>
<text transform="translate(1909.8,601.2) scale(1,1.060)" font-size="29.8" text-anchor="start">0.025</text>
<line x1="1899.8" x2="1905.3" y1="517.5" y2="517.5" stroke="#000" stroke-width="1.3"/>
<text transform="translate(1909.8,529.2) scale(1,1.060)" font-size="29.8" text-anchor="start">0.050</text>
<line x1="1899.8" x2="1905.3" y1="445.5" y2="445.5" stroke="#000" stroke-width="1.3"/>
<text transform="translate(1909.8,457.2) scale(1,1.060)" font-size="29.8" text-anchor="start">0.075</text>
<line x1="1899.8" x2="1905.3" y1="372.5" y2="372.5" stroke="#000" stroke-width="1.3"/>
<text transform="translate(1909.8,384.2) scale(1,1.060)" font-size="29.8" text-anchor="start">0.100</text>
<line x1="1899.8" x2="1905.3" y1="300.5" y2="300.5" stroke="#000" stroke-width="1.3"/>
<text transform="translate(1909.8,312.2) scale(1,1.060)" font-size="29.8" text-anchor="start">0.125</text>
<line x1="1899.8" x2="1905.3" y1="228.5" y2="228.5" stroke="#000" stroke-width="1.3"/>
<text transform="translate(1909.8,240.2) scale(1,1.060)" font-size="29.8" text-anchor="start">0.150</text>
<line x1="1899.8" x2="1905.3" y1="155.5" y2="155.5" stroke="#000" stroke-width="1.3"/>
<text transform="translate(1909.8,167.2) scale(1,1.060)" font-size="29.8" text-anchor="start">0.175</text>
<line x1="1899.8" x2="1905.3" y1="83.5" y2="83.5" stroke="#000" stroke-width="1.3"/>
<text transform="translate(1909.8,95.2) scale(1,1.060)" font-size="29.8" text-anchor="start">0.200</text>
<text transform="translate(1627.2,33.3) scale(1,1.015)" font-size="36.1" text-anchor="middle">Local</text>
<text transform="translate(1632.6,74.1) scale(1,1.015)" font-size="36.1" text-anchor="middle">refinement</text>
<text transform="translate(1455.0,735.0) scale(1,1.000)" font-size="29.6" text-anchor="start" class="ar">Forward power</text>
<text transform="translate(1675.5,732.6) scale(1,1.000)" font-size="30.2" text-anchor="start">[W]</text>
</g>
<text transform="translate(29.2,372.2) rotate(-90) scale(1,1.045)" font-size="29.8" text-anchor="middle">Color point deviation d [1]</text>
<rect x="225.0" y="772.5" width="1599.5" height="24.9" fill="url(#vg)" stroke="#000" stroke-width="1.3"/>
<line x1="225.0" x2="225.0" y1="797.4" y2="802.9" stroke="#000" stroke-width="1.3"/>
<text transform="translate(225.0,831.4) scale(1,1.055)" font-size="29.9" text-anchor="middle">0.00</text>
<line x1="532.8" x2="532.8" y1="797.4" y2="802.9" stroke="#000" stroke-width="1.3"/>
<text transform="translate(532.8,831.4) scale(1,1.055)" font-size="29.9" text-anchor="middle">0.05</text>
<line x1="840.6" x2="840.6" y1="797.4" y2="802.9" stroke="#000" stroke-width="1.3"/>
<text transform="translate(840.6,831.4) scale(1,1.055)" font-size="29.9" text-anchor="middle">0.10</text>
<line x1="1148.4" x2="1148.4" y1="797.4" y2="802.9" stroke="#000" stroke-width="1.3"/>
<text transform="translate(1148.4,831.4) scale(1,1.055)" font-size="29.9" text-anchor="middle">0.15</text>
<line x1="1456.2" x2="1456.2" y1="797.4" y2="802.9" stroke="#000" stroke-width="1.3"/>
<text transform="translate(1456.2,831.4) scale(1,1.055)" font-size="29.9" text-anchor="middle">0.20</text>
<line x1="1764.0" x2="1764.0" y1="797.4" y2="802.9" stroke="#000" stroke-width="1.3"/>
<text transform="translate(1764.0,831.4) scale(1,1.055)" font-size="29.9" text-anchor="middle">0.25</text>
<text transform="translate(1024.8,867.3) scale(1,1.050)" font-size="30.0" text-anchor="middle">Objective function [1]</text>
</svg></body></html>
